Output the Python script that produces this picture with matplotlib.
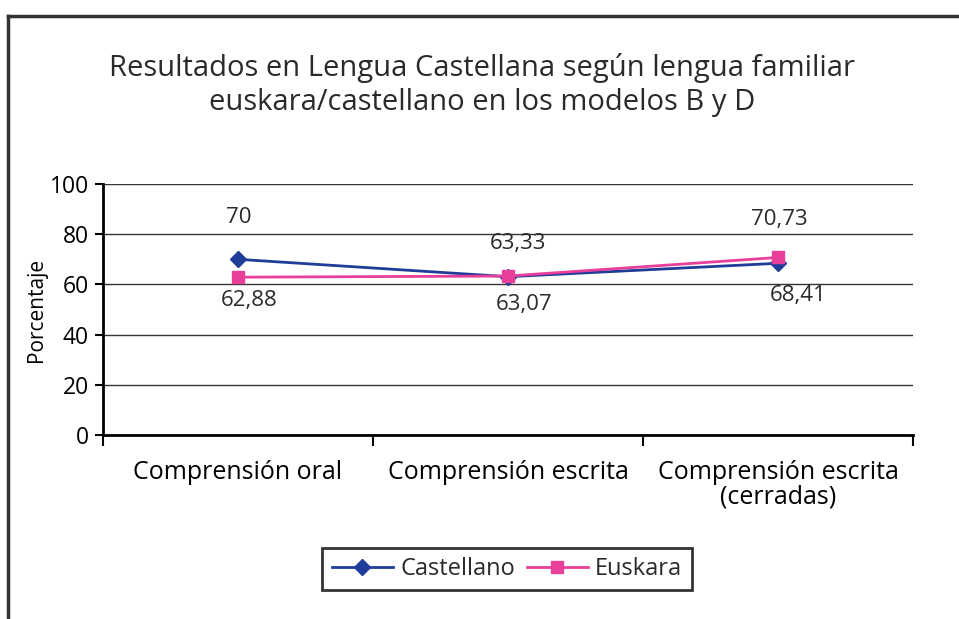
#!/usr/bin/env python3

'''
Line chart: results in Spanish language by home language (models B and D)
'''

import matplotlib
matplotlib.use('Agg')
import matplotlib.pyplot as plt
from matplotlib.lines import Line2D

CATEGORIES = ['Comprensión oral', 'Comprensión escrita',
              'Comprensión escrita\n(cerradas)']
CASTELLANO = [70, 63.07, 68.41]
EUSKARA = [62.88, 63.33, 70.73]
CASTELLANO_LABELS = ['70', '63,07', '68,41']
EUSKARA_LABELS = ['62,88', '63,33', '70,73']
Y_TICKS = [0, 20, 40, 60, 80, 100]

BLUE = '#1f3c99'
PINK = '#e8409a'
TEXT = '#2a2a2a'
W, H = 959, 619

plt.rcParams['font.family'] = ['Open Sans', 'DejaVu Sans']
plt.rcParams['text.color'] = TEXT

fig = plt.figure(figsize=(W / 100, H / 100), dpi=100)

# outer frame, only top and left edges are visible in the crop
fig.add_artist(Line2D([8 / W, 1], [1 - 16 / H, 1 - 16 / H],
                      color='#333333', lw=2.5, transform=fig.transFigure))
fig.add_artist(Line2D([8 / W, 8 / W], [0, 1 - 16 / H],
                      color='#333333', lw=2.5, transform=fig.transFigure))

fig.text(482 / W, 1 - 85 / H,
         'Resultados en Lengua Castellana según lengua familiar\n'
         'euskara/castellano en los modelos B y D',
         ha='center', va='center', fontsize=21, linespacing=1.25)

ax = fig.add_axes([103 / W, 1 - 435 / H, 810 / W, 251 / H])
x = list(range(len(CATEGORIES)))

ax.plot(x, CASTELLANO, color=BLUE, lw=2, marker='D', ms=8,
        label='Castellano', zorder=3)
ax.plot(x, EUSKARA, color=PINK, lw=2, marker='s', ms=8,
        label='Euskara', zorder=3)

# data labels: above for the higher series, below for the lower one
# (offset pixels: positive y is up)
offsets_c = [(1, 42), (16, -28), (20, -32)]
offsets_e = [(11, -23), (10, 33), (1, 38)]
for xi, v, lab, off in zip(x, CASTELLANO, CASTELLANO_LABELS, offsets_c):
    ax.annotate(lab, (xi, v), xytext=off, textcoords='offset pixels',
                ha='center', va='center', fontsize=16)
for xi, v, lab, off in zip(x, EUSKARA, EUSKARA_LABELS, offsets_e):
    ax.annotate(lab, (xi, v), xytext=off, textcoords='offset pixels',
                ha='center', va='center', fontsize=16)

ax.set_xlim(-0.5, len(CATEGORIES) - 0.5)
ax.set_ylim(0, 100)
ax.set_yticks(Y_TICKS)
ax.set_yticklabels([str(t) for t in Y_TICKS], fontsize=16.5)
ax.set_xticks(x)
ax.set_xticklabels(CATEGORIES, fontsize=18, linespacing=1.0)
ax.set_xticks([i - 0.5 for i in range(len(CATEGORIES) + 1)], minor=True)
ax.tick_params(axis='x', which='major', length=0, pad=18)
ax.tick_params(axis='x', which='minor', length=8, width=1.5, color='black')
ax.tick_params(axis='y', length=6, width=1.5, color='black', pad=4)
ax.set_ylabel('Porcentaje', fontsize=15, labelpad=2)

ax.grid(axis='y', color='#333333', lw=1)
ax.set_axisbelow(True)
for side in ['top', 'right']:
    ax.spines[side].set_visible(False)
for side in ['left', 'bottom']:
    ax.spines[side].set_linewidth(2)
    ax.spines[side].set_color('black')

leg = fig.legend(loc='center', bbox_to_anchor=(507 / W, 1 - 569 / H),
                 ncol=2, fontsize=17, fancybox=False, handlelength=2.6,
                 columnspacing=0.5, handletextpad=0.3, borderpad=0.4,
                 edgecolor='black')
leg.get_frame().set_linewidth(2)

plt.savefig('out.png', dpi=100)
